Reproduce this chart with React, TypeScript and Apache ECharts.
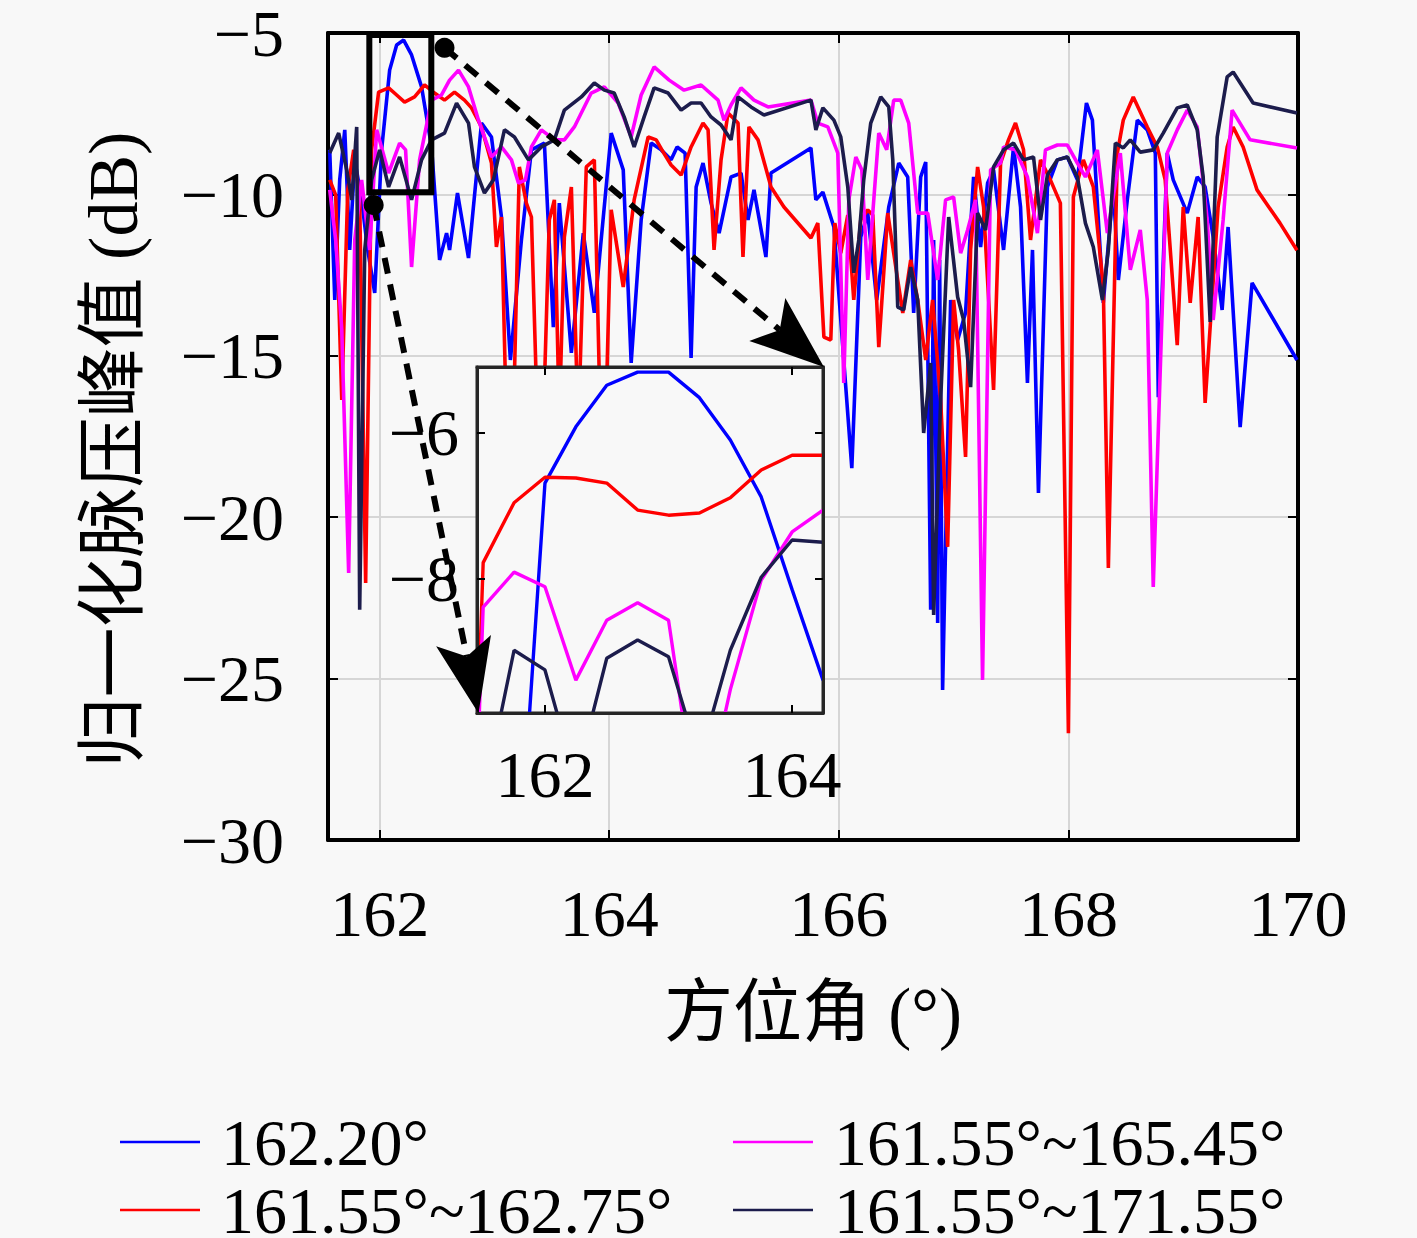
import React, { useEffect, useRef } from 'react';
import * as echarts from 'echarts';

const seriesNames = ['162.20°', '161.55°~162.75°', '161.55°~165.45°', '161.55°~171.55°'];
const seriesColors = ['#0000ff', '#ff0000', '#ff00ff', '#1c1c4c'];

const xTicks = [162, 164, 166, 168, 170];
const insetXTicks = [162, 164];
const insetYTicks = [-8, -6];

const blue: [number, number][] = [
  [161.565, -8.62], [161.609, -13.27], [161.652, -9.55], [161.696, -8.0], [161.739, -11.72], [161.783, -8.93],
  [161.843, -10.17], [161.896, -11.72], [161.957, -13.05], [162.017, -8.62], [162.087, -6.15], [162.148, -5.37],
  [162.209, -5.22], [162.278, -5.68], [162.365, -6.67], [162.452, -8.53], [162.522, -12.03], [162.583, -11.2],
  [162.609, -11.72], [162.678, -9.96], [162.774, -11.97], [162.887, -7.79], [162.974, -8.22], [163.061, -10.7],
  [163.139, -15.13], [163.235, -11.41], [163.322, -8.62], [163.435, -8.41], [163.513, -14.11], [163.565, -10.27],
  [163.67, -14.91], [163.774, -11.2], [163.87, -13.67], [164.017, -8.1], [164.122, -9.24], [164.191, -15.22],
  [164.278, -10.79], [164.365, -8.41], [164.452, -8.62], [164.539, -8.93], [164.591, -8.53], [164.661, -8.72],
  [164.713, -15.07], [164.757, -9.77], [164.817, -9.03], [164.887, -10.27], [164.957, -11.2], [165.061, -9.46],
  [165.148, -9.34], [165.209, -10.79], [165.261, -9.86], [165.365, -11.94], [165.409, -9.34], [165.757, -8.56],
  [165.8, -10.17], [165.861, -9.93], [165.957, -11.01], [166.017, -13.89], [166.113, -18.48], [166.191, -11.32],
  [166.252, -10.58], [166.33, -13.27], [166.435, -10.39], [166.522, -9.03], [166.6, -9.46], [166.652, -13.67],
  [166.713, -9.46], [166.757, -9.0], [166.8, -22.87], [166.826, -11.41], [166.861, -23.28], [166.878, -12.03],
  [166.904, -25.35], [166.974, -13.27], [167.035, -14.51], [167.104, -13.67], [167.174, -9.46], [167.235, -11.63],
  [167.296, -9.65], [167.348, -9.24], [167.435, -11.72], [167.522, -8.53], [167.583, -10.39], [167.643, -15.84],
  [167.687, -11.72], [167.739, -19.25], [167.817, -9.77], [167.904, -8.93], [167.991, -8.84], [168.078, -9.55],
  [168.157, -7.17], [168.209, -7.7], [168.278, -11.82], [168.304, -13.36], [168.391, -9.77], [168.435, -12.65],
  [168.513, -10.17], [168.6, -7.7], [168.687, -8.0], [168.757, -8.72], [168.783, -16.28], [168.861, -8.72],
  [168.913, -9.55], [169.035, -10.58], [169.122, -9.46], [169.191, -9.77], [169.261, -11.32], [169.339, -13.58],
  [169.391, -11.01], [169.496, -17.21], [169.6, -12.74], [169.991, -15.13],
];

const red: [number, number][] = [
  [161.565, -9.55], [161.617, -10.02], [161.67, -16.37], [161.722, -9.86], [161.774, -8.62], [161.826, -10.17],
  [161.878, -22.04], [161.93, -8.62], [161.991, -6.83], [162.078, -6.7], [162.148, -6.92], [162.217, -7.14],
  [162.304, -6.98], [162.391, -6.61], [162.478, -6.86], [162.565, -7.08], [162.652, -6.83], [162.739, -7.08],
  [162.8, -7.32], [162.887, -7.91], [162.974, -9.03], [163.017, -11.63], [163.061, -10.7], [163.104, -16.99],
  [163.165, -16.99], [163.217, -9.15], [163.278, -10.27], [163.322, -10.7], [163.374, -16.99], [163.426, -16.99],
  [163.478, -10.79], [163.522, -10.17], [163.565, -16.99], [163.609, -11.32], [163.67, -9.77], [163.73, -17.3],
  [163.8, -9.15], [163.87, -8.93], [163.922, -16.99], [163.974, -16.37], [164.017, -10.48], [164.122, -12.87],
  [164.217, -10.17], [164.339, -8.22], [164.409, -8.31], [164.47, -8.69], [164.539, -9.09], [164.626, -9.4],
  [164.713, -8.53], [164.817, -7.79], [164.861, -8.0], [164.913, -11.72], [164.974, -8.93], [165.035, -7.48],
  [165.122, -7.79], [165.165, -11.94], [165.217, -7.91], [165.296, -8.31], [165.409, -9.77], [165.522, -10.39],
  [165.757, -11.35], [165.817, -10.89], [165.87, -14.42], [165.93, -14.51], [165.965, -10.89], [166.017, -11.82],
  [166.078, -10.64], [166.13, -13.27], [166.191, -10.79], [166.252, -10.48], [166.296, -10.64], [166.348, -14.73],
  [166.426, -10.58], [166.513, -12.65], [166.557, -13.67], [166.626, -12.03], [166.687, -13.27], [166.757, -15.13],
  [166.817, -13.27], [166.887, -16.37], [166.948, -20.92], [167.0, -13.27], [167.043, -14.82], [167.104, -18.13],
  [167.148, -11.72], [167.209, -9.15], [167.261, -10.39], [167.348, -16.06], [167.409, -9.03], [167.478, -8.31],
  [167.539, -7.79], [167.609, -8.62], [167.67, -11.41], [167.757, -8.93], [167.843, -9.55], [167.93, -10.27],
  [168.0, -26.69], [168.043, -10.08], [168.13, -8.93], [168.217, -9.77], [168.304, -12.87], [168.348, -21.57],
  [168.426, -8.72], [168.478, -7.7], [168.565, -6.98], [168.687, -7.91], [168.774, -8.53], [168.843, -9.55],
  [168.948, -14.67], [169.0, -10.39], [169.061, -13.36], [169.13, -10.7], [169.191, -16.46], [169.304, -10.39],
  [169.383, -8.53], [169.435, -7.91], [169.522, -8.53], [169.643, -9.86], [169.843, -10.89], [169.991, -11.73],
];

const magenta: [number, number][] = [
  [161.565, -9.86], [161.617, -11.41], [161.67, -14.2], [161.73, -21.73], [161.783, -11.41], [161.843, -9.55],
  [161.913, -11.72], [161.974, -8.0], [162.078, -9.34], [162.174, -8.41], [162.226, -8.62], [162.278, -12.25],
  [162.348, -8.93], [162.452, -7.08], [162.539, -6.92], [162.609, -6.46], [162.687, -6.15], [162.774, -6.67],
  [162.861, -7.7], [162.974, -8.84], [163.061, -8.53], [163.148, -8.93], [163.209, -9.65], [163.27, -9.55],
  [163.322, -8.53], [163.409, -8.0], [163.522, -8.31], [163.609, -8.31], [163.696, -7.91], [163.843, -6.86],
  [163.957, -6.67], [164.078, -7.17], [164.191, -8.22], [164.278, -6.92], [164.391, -6.05], [164.522, -6.46],
  [164.652, -6.77], [164.8, -6.61], [164.948, -7.08], [165.0, -7.7], [165.061, -7.23], [165.148, -6.7],
  [165.261, -7.08], [165.383, -7.29], [165.757, -7.08], [165.817, -7.79], [165.904, -7.91], [165.991, -8.72],
  [166.043, -15.84], [166.087, -10.17], [166.148, -8.84], [166.2, -9.24], [166.252, -12.65], [166.348, -8.1],
  [166.417, -8.62], [166.478, -7.08], [166.539, -7.08], [166.609, -7.79], [166.687, -10.58], [166.774, -10.58],
  [166.861, -12.65], [166.93, -10.17], [167.0, -10.08], [167.061, -11.82], [167.122, -11.1], [167.191, -10.17],
  [167.252, -25.04], [167.322, -9.24], [167.409, -9.03], [167.435, -8.53], [167.539, -8.62], [167.643, -9.46],
  [167.73, -11.2], [167.8, -8.62], [167.904, -8.47], [167.991, -8.47], [168.078, -9.03], [168.148, -9.46],
  [168.252, -8.62], [168.339, -11.2], [168.452, -8.72], [168.539, -12.34], [168.626, -11.1], [168.687, -13.27],
  [168.739, -22.16], [168.861, -8.72], [168.948, -8.0], [169.035, -7.39], [169.122, -7.91], [169.209, -10.79],
  [169.261, -13.89], [169.348, -10.79], [169.426, -7.39], [169.583, -8.31], [169.991, -8.56],
];

const navy: [number, number][] = [
  [161.565, -8.72], [161.643, -8.1], [161.713, -9.24], [161.757, -10.17], [161.8, -7.91], [161.826, -22.87],
  [161.87, -11.72], [161.93, -9.55], [162.0, -8.62], [162.078, -9.77], [162.174, -8.84], [162.278, -10.17],
  [162.365, -8.93], [162.452, -8.31], [162.565, -8.1], [162.67, -7.17], [162.774, -7.79], [162.826, -9.15],
  [162.913, -9.96], [162.991, -9.55], [163.087, -8.0], [163.174, -8.22], [163.296, -8.93], [163.409, -8.53],
  [163.522, -8.31], [163.609, -7.39], [163.757, -6.98], [163.87, -6.55], [163.957, -6.77], [164.043, -6.86],
  [164.13, -7.6], [164.217, -8.53], [164.304, -7.6], [164.391, -6.7], [164.513, -6.86], [164.626, -7.39],
  [164.713, -7.17], [164.8, -7.17], [164.887, -7.6], [164.974, -7.85], [165.061, -8.31], [165.122, -6.98],
  [165.235, -7.29], [165.348, -7.54], [165.757, -7.08], [165.8, -8.0], [165.861, -7.32], [165.957, -7.7],
  [166.017, -8.22], [166.078, -9.77], [166.13, -12.43], [166.174, -11.41], [166.217, -9.55], [166.278, -7.79],
  [166.365, -6.98], [166.435, -7.29], [166.47, -8.93], [166.513, -13.49], [166.565, -13.58], [166.626, -12.25],
  [166.687, -13.27], [166.739, -17.39], [166.8, -15.22], [166.826, -23.03], [166.887, -16.37], [166.957, -10.7],
  [167.035, -13.18], [167.087, -13.89], [167.148, -15.97], [167.209, -10.58], [167.278, -11.1], [167.348, -9.15],
  [167.435, -8.62], [167.522, -8.41], [167.609, -8.93], [167.696, -8.84], [167.757, -10.79], [167.817, -9.4],
  [167.904, -8.93], [167.991, -8.84], [168.078, -9.46], [168.148, -10.89], [168.217, -11.63], [168.296, -13.27],
  [168.348, -11.72], [168.409, -8.41], [168.478, -8.56], [168.539, -8.31], [168.626, -8.69], [168.739, -8.62],
  [168.826, -8.1], [168.948, -7.32], [169.035, -7.23], [169.122, -8.0], [169.174, -9.46], [169.235, -13.95],
  [169.296, -8.22], [169.383, -6.36], [169.435, -6.21], [169.609, -7.17], [169.991, -7.48],
];

const insetX = [161.25, 161.5, 161.75, 162, 162.25, 162.5, 162.75, 163, 163.25, 163.5, 163.75, 164, 164.25];
const insetBlue = [-14, -14, -13, -6.69, -5.92, -5.35, -5.17, -5.17, -5.52, -6.1, -6.88, -8.15, -9.39];
const insetRed = [-20, -7.78, -6.96, -6.61, -6.62, -6.69, -7.06, -7.13, -7.1, -6.89, -6.51, -6.31, -6.31];
const insetMagenta = [-20, -8.39, -7.91, -8.11, -9.39, -8.57, -8.33, -8.57, -11.44, -9.52, -8.02, -7.36, -7.06];
const insetNavy = [-14, -11.03, -8.98, -9.25, -10.76, -9.09, -8.84, -9.07, -10.48, -8.98, -7.98, -7.47, -7.5];

// zoom box [x1, y1, x2, y2] and arrows [xStart, yStart, xEnd, yEnd] in main-axis data units
const zoomBox = [[161.91, -5.06, 162.45, -9.93]];
const arrows = [
  [162.565, -5.46, 165.87, -15.35],
  [161.948, -10.33, 162.861, -26.07],
];

const FONT = "'Liberation Serif', 'Noto Sans CJK SC', serif";
const BG = '#f8f8f8';
const minus = (v: number) => String(v).replace('-', '\u2212');

export default function App() {
  const ref = useRef<HTMLDivElement>(null);

  useEffect(() => {
    document.body.style.margin = '0';
    document.body.style.background = BG;
    const chart = echarts.init(ref.current!, null, { renderer: 'svg' });

    const labelStyle = { fontSize: 66, fontFamily: FONT, color: '#000' };
    const nameStyle = { fontSize: 69, fontFamily: FONT, color: '#000' };
    const frameLine = { show: true, onZero: false, lineStyle: { color: '#000', width: 4 } };
    const insetLine = { show: true, onZero: false, lineStyle: { color: '#262626', width: 3 } };
    const tick = (vals: number[] | undefined, len: number) => ({
      show: true, inside: true, length: len,
      lineStyle: { color: '#000', width: 2 },
      ...(vals ? { customValues: vals } : {}),
    });

    const mainSeries = [blue, red, magenta, navy].map((d, i) => ({
      type: 'line', name: seriesNames[i], data: d, xAxisIndex: 0, yAxisIndex: 0,
      showSymbol: false, symbol: 'none', z: 2,
      lineStyle: { width: 3.6, color: seriesColors[i] }, itemStyle: { color: seriesColors[i] },
      emphasis: { disabled: true },
    }));
    const insetSeries = [insetBlue, insetRed, insetMagenta, insetNavy].map((d, i) => ({
      type: 'line', name: seriesNames[i], data: insetX.map((x, k) => [x, d[k]]),
      xAxisIndex: 2, yAxisIndex: 2, showSymbol: false, symbol: 'none', z: 4,
      lineStyle: { width: 3.4, color: seriesColors[i] }, itemStyle: { color: seriesColors[i] },
      emphasis: { disabled: true },
    }));

    // one legend per entry, laid out as 2 columns x 2 rows
    const legendPos = [
      { left: 120, top: 1109 },
      { left: 120, top: 1177 },
      { left: 733, top: 1109 },
      { left: 733, top: 1177 },
    ];

    const option: any = {
      animation: false,
      backgroundColor: BG,
      color: seriesColors,
      grid: [
        { left: 328, top: 33, width: 970, height: 807 },
        { left: 477, top: 367, width: 346, height: 346 },
      ],
      graphic: {
        elements: [
          { type: 'rect', z: 3, silent: true, shape: { x: 477, y: 367, width: 346, height: 346 },
            style: { fill: BG, stroke: '#262626', lineWidth: 3 } },
        ],
      },
      xAxis: [
        { gridIndex: 0, type: 'value', min: 161.55, max: 170, position: 'bottom',
          axisLine: frameLine, axisTick: tick(xTicks, 10),
          axisLabel: { customValues: xTicks, margin: 40, ...labelStyle },
          splitLine: { show: true, lineStyle: { color: '#d6d6d6', width: 2 } },
          name: '方位角 (°)', nameLocation: 'middle', nameGap: 138, nameTextStyle: nameStyle },
        { gridIndex: 0, type: 'value', min: 161.55, max: 170, position: 'top',
          axisLine: frameLine, axisTick: tick(xTicks, 10), axisLabel: { show: false, customValues: xTicks },
          splitLine: { show: false } },
        { gridIndex: 1, type: 'value', min: 161.45, max: 164.25, position: 'bottom', z: 5,
          axisLine: insetLine, axisTick: tick(insetXTicks, 8),
          axisLabel: { customValues: insetXTicks, margin: 28, ...labelStyle },
          splitLine: { show: false } },
        { gridIndex: 1, type: 'value', min: 161.45, max: 164.25, position: 'top', z: 5,
          axisLine: insetLine, axisTick: tick(insetXTicks, 8),
          axisLabel: { show: false, customValues: insetXTicks }, splitLine: { show: false } },
      ],
      yAxis: [
        { gridIndex: 0, type: 'value', min: -30, max: -5, interval: 5, position: 'left',
          axisLine: frameLine, axisTick: tick(undefined, 10),
          axisLabel: { margin: 44, formatter: minus, ...labelStyle },
          splitLine: { show: true, lineStyle: { color: '#d6d6d6', width: 2 } },
          name: '归一化脉压峰值 (dB)', nameLocation: 'middle', nameRotate: 90, nameGap: 180,
          nameTextStyle: { ...nameStyle, fontSize: 70, padding: [0, 26, 0, 0] } },
        { gridIndex: 0, type: 'value', min: -30, max: -5, interval: 5, position: 'right',
          axisLine: frameLine, axisTick: tick(undefined, 10), axisLabel: { show: false },
          splitLine: { show: false } },
        { gridIndex: 1, type: 'value', min: -9.84, max: -5.1, position: 'left', z: 5,
          axisLine: insetLine, axisTick: tick(insetYTicks, 8),
          axisLabel: { customValues: insetYTicks, margin: 18, formatter: minus, ...labelStyle },
          splitLine: { show: false } },
        { gridIndex: 1, type: 'value', min: -9.84, max: -5.1, position: 'right', z: 5,
          axisLine: insetLine, axisTick: tick(insetYTicks, 8),
          axisLabel: { show: false, customValues: insetYTicks }, splitLine: { show: false } },
      ],
      legend: seriesNames.map((name, i) => ({
        data: [name],
        left: legendPos[i].left, top: legendPos[i].top, orient: 'horizontal', padding: 0,
        icon: 'rect', itemWidth: 80, itemHeight: 2.5, selectedMode: false,
        textStyle: { ...labelStyle, fontSize: 66, lineHeight: 56, padding: [0, 0, 0, 16] },
      })),
      series: [
        ...mainSeries,
        ...insetSeries,
        {
          type: 'custom', xAxisIndex: 0, yAxisIndex: 0, z: 9, clip: false, silent: true,
          data: zoomBox,
          renderItem: (params: any, api: any) => {
            const p1 = api.coord([api.value(0), api.value(1)]);
            const p2 = api.coord([api.value(2), api.value(3)]);
            return {
              type: 'rect',
              shape: { x: p1[0], y: p1[1], width: p2[0] - p1[0], height: p2[1] - p1[1] },
              style: { fill: 'none', stroke: '#000', lineWidth: 6 },
            };
          },
        },
        {
          type: 'custom', xAxisIndex: 0, yAxisIndex: 0, z: 10, clip: false, silent: true,
          data: arrows,
          renderItem: (params: any, api: any) => {
            const p1 = api.coord([api.value(0), api.value(1)]);
            const p2 = api.coord([api.value(2), api.value(3)]);
            const dx = p2[0] - p1[0], dy = p2[1] - p1[1];
            const len = Math.sqrt(dx * dx + dy * dy);
            const ux = dx / len, uy = dy / len;
            const nx = -uy, ny = ux;
            const L = 74, W = 28;
            const bx = p2[0] - ux * L, by = p2[1] - uy * L;
            const mx = p2[0] - ux * L * 0.78, my = p2[1] - uy * L * 0.78;
            return {
              type: 'group',
              children: [
                { type: 'line', shape: { x1: p1[0], y1: p1[1], x2: mx, y2: my },
                  style: { stroke: '#000', lineWidth: 6, lineDash: [16, 11] } },
                { type: 'polygon',
                  shape: { points: [[p2[0], p2[1]], [bx + nx * W, by + ny * W], [mx, my], [bx - nx * W, by - ny * W]] },
                  style: { fill: '#000' } },
                { type: 'circle', shape: { cx: p1[0], cy: p1[1], r: 10 }, style: { fill: '#000' } },
              ],
            };
          },
        },
      ],
    };

    chart.setOption(option);
    return () => chart.dispose();
  }, []);

  return (
    <div
      ref={ref}
      style={{ position: 'absolute', left: 0, top: 0, width: 1417, height: 1238, background: BG }}
    />
  );
}
